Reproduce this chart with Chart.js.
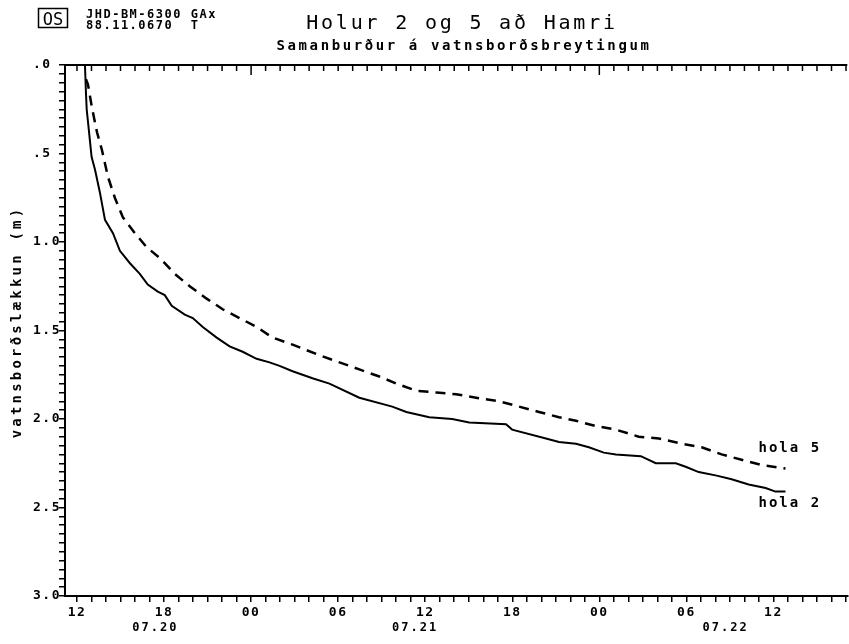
<!DOCTYPE html>
<html><head><meta charset="utf-8">
<script src="https://cdn.jsdelivr.net/npm/chart.js@4/dist/chart.umd.min.js"></script>
<style>html,body{margin:0;padding:0;background:#fff}#wrap{width:849px;height:644px;position:relative}canvas{display:block}</style>
</head><body><div id="wrap"><canvas id="c" width="849" height="644"></canvas></div>
<script>
// hours since 07.20 12:00
const hoursHola2 = [0.55,0.62,0.67,1.01,1.24,1.58,1.93,2.48,2.96,3.65,4.33,4.88,5.57,6.05,6.53,7.43,7.98,8.67,9.63,10.52,11.42,12.38,13.27,13.96,14.86,16.23,17.40,19.46,21.73,22.70,24.28,25.86,27.03,29.57,29.99,32.32,33.22,34.39,35.28,36.31,37.14,38.86,39.89,41.27,41.95,42.85,44.09,45.12,46.29,47.46,48.14,48.83];
const depthHola2 = [0.00,0.16,0.25,0.52,0.59,0.72,0.875,0.95,1.05,1.12,1.18,1.24,1.28,1.30,1.36,1.41,1.43,1.48,1.54,1.59,1.62,1.66,1.68,1.70,1.73,1.77,1.80,1.88,1.93,1.96,1.99,2.00,2.02,2.03,2.06,2.11,2.13,2.14,2.16,2.19,2.20,2.21,2.25,2.25,2.27,2.30,2.32,2.34,2.37,2.39,2.41,2.41];
const hoursHola5 = [0.62,0.76,1.03,1.38,1.72,2.13,2.61,3.16,3.99,4.81,5.71,6.74,7.77,8.94,10.04,11.21,12.38,13.48,14.86,16.71,18.09,19.46,20.84,22.01,23.38,24.76,26.13,27.51,29.09,30.47,31.84,33.22,34.39,35.76,37.14,38.72,40.10,41.68,43.05,44.43,45.80,47.18,48.83];
const depthHola5 = [0.08,0.11,0.24,0.38,0.48,0.63,0.75,0.86,0.95,1.03,1.09,1.18,1.25,1.32,1.38,1.43,1.48,1.54,1.58,1.64,1.68,1.72,1.76,1.80,1.84,1.85,1.86,1.88,1.90,1.93,1.96,1.99,2.01,2.04,2.06,2.10,2.11,2.14,2.16,2.20,2.23,2.26,2.28];
const seriesNames = ['hola 2','hola 5'];
const hourTickValues = [0,6,12,18,24,30,36,42,48];
const hourTickLabels = ['12','18','00','06','12','18','00','06','12'];
const dayStartHours = [12,36];
const dateLabelHours = [5.4,23.3,44.7];
const dateLabels = ['07.20','07.21','07.22'];
const yTickValues = [0,0.5,1,1.5,2,2.5,3];
const yTickLabels = ['.0','.5','1.0','1.5','2.0','2.5','3.0'];
const titleText = 'Holur 2 og 5 að Hamri';
const subtitleText = 'Samanburður á vatnsborðsbreytingum';
const yAxisTitle = 'vatnsborðslækkun (m)';
const stampLines = ['JHD-BM-6300 GAx','88.11.0670  T'];
const logoText = 'OS';

const MONO = '"DejaVu Sans Mono", "Liberation Mono", monospace';

const decor = {
  id: 'decor',
  beforeDraw(chart) { chart.ctx.letterSpacing = '1.5px'; },
  afterDraw(chart) {
    const ctx = chart.ctx, ca = chart.chartArea, xs = chart.scales.x;
    ctx.save();
    ctx.strokeStyle = '#000'; ctx.fillStyle = '#000';
    ctx.lineWidth = 2;
    ctx.beginPath(); ctx.moveTo(ca.left, ca.top); ctx.lineTo(ca.right, ca.top); ctx.stroke();
    ctx.lineWidth = 1.5;
    xs.ticks.forEach(t => {
      const px = xs.getPixelForValue(t.value);
      const len = dayStartHours.includes(t.value) ? 10 : 6;
      ctx.beginPath(); ctx.moveTo(px, ca.top); ctx.lineTo(px, ca.top + len); ctx.stroke();
    });
    ctx.font = 'bold 12px ' + MONO;
    ctx.letterSpacing = '2px';
    ctx.textAlign = 'center'; ctx.textBaseline = 'middle';
    dateLabels.forEach((d, i) => ctx.fillText(d, xs.getPixelForValue(dateLabelHours[i]), 628));
    ctx.font = 'bold 14px ' + MONO;
    ctx.letterSpacing = '2px';
    ctx.textAlign = 'left';
    [0,1].forEach(i => {
      const meta = chart.getDatasetMeta(i);
      const last = meta.data[meta.data.length - 1];
      const dy = i === 0 ? 12 : -20;
      ctx.fillText(seriesNames[i], last.x - 27, last.y + dy);
    });
    ctx.textAlign = 'center'; ctx.textBaseline = 'alphabetic';
    ctx.font = '20px ' + MONO; ctx.letterSpacing = '2.8px';
    ctx.fillText(titleText, 462, 29);
    ctx.font = 'bold 14px ' + MONO; ctx.letterSpacing = '2.6px';
    ctx.fillText(subtitleText, 464, 50);
    ctx.textAlign = 'left';
    ctx.font = 'bold 12px ' + MONO; ctx.letterSpacing = '1.5px';
    ctx.fillText(stampLines[0], 86, 18);
    ctx.fillText(stampLines[1], 86, 29);
    ctx.lineWidth = 1.5;
    ctx.strokeRect(38.5, 8.5, 29, 19);
    ctx.font = '17px ' + MONO; ctx.letterSpacing = '0px';
    ctx.textAlign = 'center';
    ctx.fillText(logoText, 53, 25);
    ctx.translate(17, 322);
    ctx.rotate(-Math.PI / 2);
    ctx.font = 'bold 14px ' + MONO; ctx.letterSpacing = '3.2px';
    ctx.textAlign = 'center'; ctx.textBaseline = 'middle';
    ctx.fillText(yAxisTitle, 0, 0);
    ctx.restore();
    ctx.letterSpacing = '0px';
  }
};

new Chart(document.getElementById('c'), {
  type: 'line',
  data: {
    datasets: [
      { label: seriesNames[0], data: hoursHola2.map((h, i) => ({x: h, y: depthHola2[i]})),
        borderColor: '#000', borderWidth: 2, pointRadius: 0, tension: 0, fill: false },
      { label: seriesNames[1], data: hoursHola5.map((h, i) => ({x: h, y: depthHola5[i]})),
        borderColor: '#000', borderWidth: 2.5, borderDash: [10, 7], pointRadius: 0, tension: 0, fill: false }
    ]
  },
  options: {
    responsive: false, animation: false, devicePixelRatio: 1,
    layout: { padding: { left: 33, top: 65, right: 0, bottom: 0 } },
    plugins: { legend: { display: false }, tooltip: { enabled: false }, title: { display: false } },
    scales: {
      x: {
        type: 'linear', min: -0.825, max: 53.09,
        afterBuildTicks(s) { const t = []; for (let h = 0; h <= 53; h++) t.push({value: h}); s.ticks = t; },
        afterFit(s) { s.height = 48; },
        grid: { drawOnChartArea: false, drawTicks: true, tickLength: 6, color: '#000', lineWidth: 1.5 },
        border: { display: true, color: '#000', width: 2 },
        ticks: { autoSkip: false, maxRotation: 0, minRotation: 0, padding: 3, color: '#000',
          font: { family: MONO, size: 13, weight: 'bold' },
          callback(v) { const i = hourTickValues.indexOf(v); return i >= 0 ? hourTickLabels[i] : ''; } }
      },
      y: {
        type: 'linear', reverse: true, min: 0, max: 3,
        afterBuildTicks(s) { const t = []; for (let k = 0; k <= 60; k++) t.push({value: Math.round(k * 5) / 100}); s.ticks = t; },
        afterFit(s) { s.width = 32; },
        grid: { drawOnChartArea: false, drawTicks: true, tickLength: 6, color: '#000', lineWidth: 1.5 },
        border: { display: true, color: '#000', width: 2 },
        ticks: { autoSkip: false, crossAlign: 'far', padding: 2, color: '#000',
          font: { family: MONO, size: 13, weight: 'bold' },
          callback(v) { const i = yTickValues.findIndex(y => Math.abs(y - v) < 1e-6); return i >= 0 ? yTickLabels[i] : ''; } }
      }
    }
  },
  plugins: [decor]
});
</script></body></html>
